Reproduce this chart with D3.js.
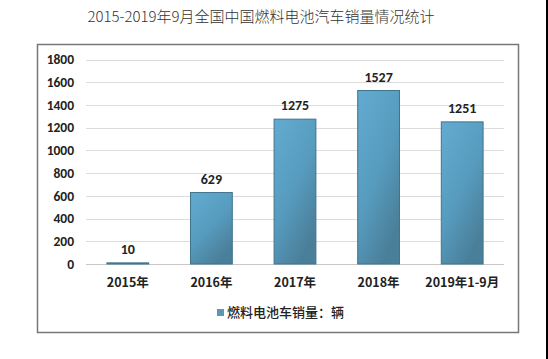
<!DOCTYPE html>
<html>
<head>
<meta charset="utf-8">
<script src="https://cdn.jsdelivr.net/npm/d3@7"></script>
<style>
  body { margin: 0; background: #fff; }
  svg { display: block; }
</style>
</head>
<body>
<svg></svg>
<script>
// chart data
const categories = ["2015年", "2016年", "2017年", "2018年", "2019年1-9月"];
const sales = [10, 629, 1275, 1527, 1251];
const yTicks = [0, 200, 400, 600, 800, 1000, 1200, 1400, 1600, 1800];
const title = "2015-2019年9月全国中国燃料电池汽车销量情况统计";
const legendLabel = "燃料电池车销量：辆";

let width = 548, height = 359;
let svg = d3.select("svg").attr("width", width).attr("height", height);

// plot area
const plot = { left: 86, right: 504, top: 59.5, bottom: 264 };

// gradient for the bars
let defs = svg.append("defs");
let grad = defs.append("linearGradient")
    .attr("id", "bar-grad")
    .attr("x1", 0).attr("y1", 0).attr("x2", 0.6).attr("y2", 1);
grad.append("stop").attr("offset", 0).attr("stop-color", "#62abd0");
grad.append("stop").attr("offset", 0.55).attr("stop-color", "#579cbf");
grad.append("stop").attr("offset", 1).attr("stop-color", "#4a7f99");

// title
svg.append("text")
    .attr("x", 261)
    .attr("y", 22)
    .attr("text-anchor", "middle")
    .attr("font-family", "'Noto Sans CJK SC', sans-serif")
    .attr("font-size", 15)
    .attr("font-weight", 300)
    .attr("fill", "#333")
    .text(title);

// outer frame
svg.append("rect")
    .attr("x", 37.5).attr("y", 44.5)
    .attr("width", 481).attr("height", 288)
    .attr("fill", "#fff")
    .attr("stroke", "#777")
    .attr("stroke-width", 1.5);

// black strip on the right edge
svg.append("rect")
    .attr("x", 546).attr("y", 0)
    .attr("width", 2).attr("height", height)
    .attr("fill", "#000");

let x = d3.scaleBand()
    .domain(categories)
    .range([plot.left, plot.right])
    .paddingInner(0.5)
    .paddingOuter(0.25);

let y = d3.scaleLinear()
    .domain([0, 1800])
    .range([plot.bottom, plot.top]);

// gridlines
svg.append("g")
    .selectAll("line")
    .data(yTicks)
    .enter()
    .append("line")
    .attr("x1", plot.left).attr("x2", plot.right)
    .attr("y1", d => Math.round(y(d)) + 0.5)
    .attr("y2", d => Math.round(y(d)) + 0.5)
    .attr("stroke", d => d === 0 ? "#c8c8c8" : "#dcdcdc")
    .attr("stroke-width", 1);

// y axis labels
let yAxis = d3.axisLeft(y).tickValues(yTicks).tickFormat(d3.format("d")).tickSize(0).tickPadding(12);
let yg = svg.append("g")
    .attr("transform", "translate(" + plot.left + ",0)")
    .call(yAxis);
yg.select(".domain").remove();
yg.selectAll("text")
    .attr("font-family", "Carlito, 'Liberation Sans', sans-serif")
    .attr("font-size", 13.5)
    .attr("font-weight", "bold")
    .attr("fill", "#222");

// bars
svg.append("g")
    .selectAll("rect")
    .data(sales)
    .enter()
    .append("rect")
    .attr("x", (d, i) => x(categories[i]))
    .attr("y", d => y(d))
    .attr("width", x.bandwidth())
    .attr("height", d => plot.bottom - y(d))
    .attr("fill", "url(#bar-grad)")
    .attr("stroke", "#40738c")
    .attr("stroke-width", 1);

// value labels
svg.append("g")
    .selectAll("text")
    .data(sales)
    .enter()
    .append("text")
    .attr("x", (d, i) => x(categories[i]) + x.bandwidth() / 2)
    .attr("y", d => y(d) - 9)
    .attr("text-anchor", "middle")
    .attr("font-family", "Carlito, 'Liberation Sans', sans-serif")
    .attr("font-size", 14)
    .attr("font-weight", "bold")
    .attr("fill", "#222")
    .text(d => d);

// x axis labels
let xAxis = d3.axisBottom(x).tickSize(0).tickPadding(14);
let xg = svg.append("g")
    .attr("transform", "translate(0," + plot.bottom + ")")
    .call(xAxis);
xg.select(".domain").remove();
xg.selectAll("text")
    .attr("font-family", "'Noto Sans CJK SC', sans-serif")
    .attr("font-size", 12.5)
    .attr("font-weight", "bold")
    .attr("fill", "#222");

// legend
svg.append("rect")
    .attr("x", 217).attr("y", 309)
    .attr("width", 7).attr("height", 7)
    .attr("fill", "#5b96b3");
svg.append("text")
    .attr("x", 227)
    .attr("y", 317)
    .attr("font-family", "'Noto Sans CJK SC', sans-serif")
    .attr("font-size", 13)
    .attr("font-weight", 500)
    .attr("fill", "#222")
    .text(legendLabel);
</script>
</body>
</html>
